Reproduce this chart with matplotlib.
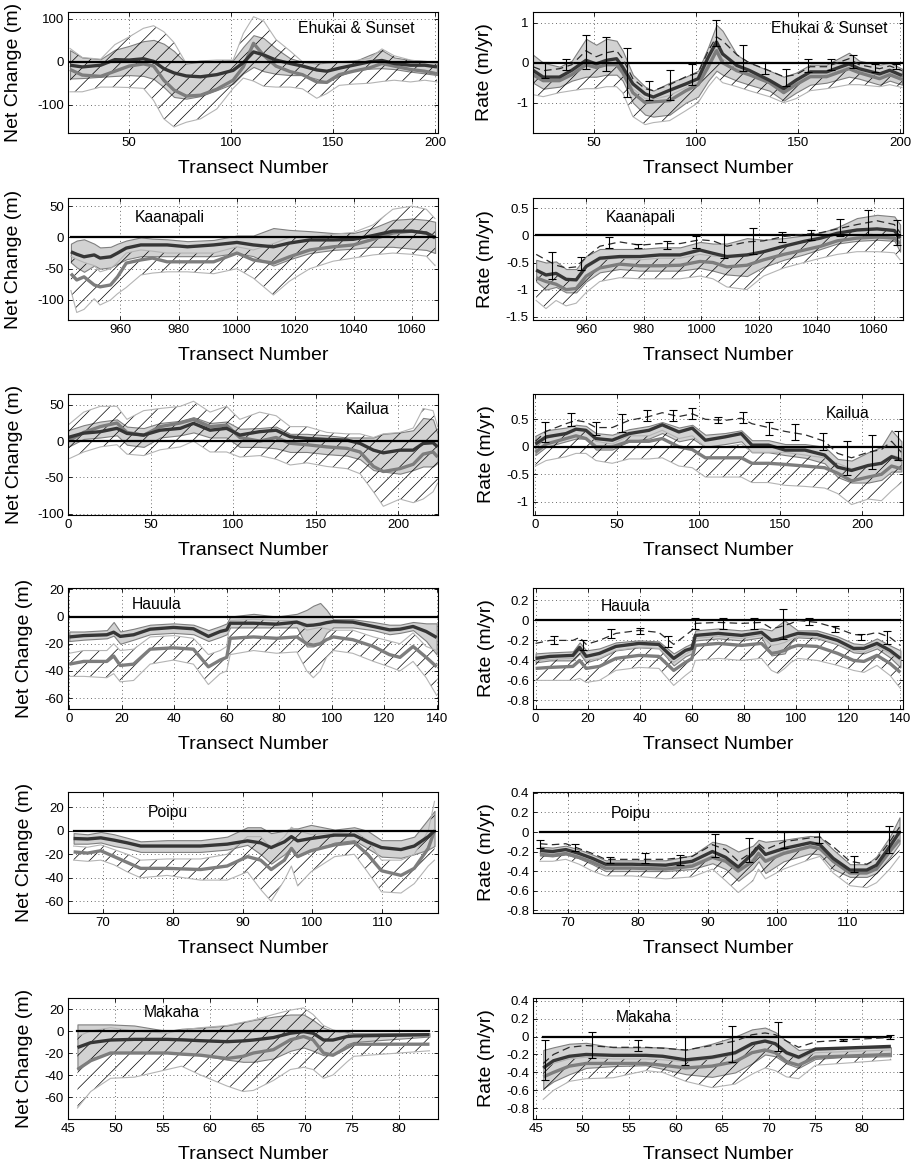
import matplotlib
matplotlib.use("Agg")
import matplotlib.pyplot as plt

plt.rcParams['font.family'] = ['Liberation Sans', 'DejaVu Sans']
plt.rcParams['hatch.linewidth'] = 0.5

# ---------------- Ehukai & Sunset ----------------
EHU_NC_X = [21, 27, 36, 43, 50, 57, 62, 67, 72, 78, 85, 93, 101, 106, 111, 116, 122, 129, 135, 142, 147, 153, 160, 168, 174, 180, 188, 195, 201]
EHU_NC_DARK = [-8, -12, -8, 5, 4, 7, 1, -16, -26, -33, -35, -30, -20, -2, 23, 16, 4, -4, -10, -19, -22, -15, -8, 0, 3, -4, -8, -8, -12]
EHU_NC_GRAY = [-18, -31, -34, -22, -10, -5, -10, -43, -66, -80, -78, -64, -43, -12, 43, 15, -10, -23, -30, -47, -48, -30, -22, -14, -4, -10, -18, -22, -28]
EHU_NC_BHI = [27, 10, 6, 28, 37, 48, 51, 42, 25, -4, 0, 2, 4, 35, 62, 55, 31, 8, 0, -4, -2, 0, 0, 16, 27, 10, 4, 2, 0]
EHU_NC_BLO = [-39, -38, -35, -33, -31, -33, -40, -59, -82, -86, -80, -66, -51, -27, -12, -22, -28, -31, -31, -40, -47, -33, -20, -16, -15, -17, -23, -27, -31]
EHU_NC_HHI = [31, 10, 6, 40, 58, 78, 84, 70, 45, -4, 2, 4, 4, 66, 105, 95, 52, 25, 0, -4, 0, 0, 2, 8, 30, 14, 4, 0, -4]
EHU_NC_HLO = [-70, -70, -59, -59, -60, -62, -90, -133, -152, -141, -133, -110, -62, -38, -45, -57, -59, -59, -63, -85, -74, -55, -52, -50, -46, -43, -47, -43, -47]

EHU_R_X = [20, 25, 33, 39, 46, 51, 56, 61, 64, 69, 75, 79, 87, 95, 101, 106, 110, 113, 120, 126, 136, 143, 149, 156, 164, 175, 180, 190, 195, 201]
EHU_R_DARK = [-0.19, -0.36, -0.36, -0.19, 0.06, -0.03, 0.06, 0.1, -0.11, -0.53, -0.78, -0.86, -0.69, -0.53, -0.4, 0.14, 0.52, 0.22, -0.07, -0.19, -0.44, -0.65, -0.44, -0.23, -0.23, -0.03, -0.15, -0.28, -0.19, -0.32]
EHU_R_GRAY = [-0.3, -0.45, -0.45, -0.3, -0.05, -0.12, -0.05, -0.05, -0.25, -0.75, -1.0, -0.98, -0.95, -0.7, -0.55, -0.1, 0.3, 0.0, -0.2, -0.3, -0.5, -0.75, -0.55, -0.35, -0.35, -0.15, -0.25, -0.4, -0.3, -0.42]
EHU_R_BHI = [0.2, 0.0, -0.1, 0.05, 0.6, 0.45, 0.6, 0.55, 0.3, -0.3, -0.6, -0.7, -0.5, -0.35, -0.2, 0.4, 0.95, 0.8, 0.2, 0.0, -0.2, -0.35, -0.25, -0.05, -0.05, 0.25, 0.05, -0.05, 0.0, -0.15]
EHU_R_BLO = [-0.5, -0.65, -0.6, -0.45, -0.35, -0.35, -0.3, -0.3, -0.45, -1.0, -1.3, -1.35, -1.3, -1.0, -0.85, -0.45, -0.2, -0.3, -0.45, -0.55, -0.7, -0.95, -0.75, -0.55, -0.5, -0.35, -0.4, -0.55, -0.45, -0.55]
EHU_R_HHI = [-0.25, -0.42, -0.42, -0.25, 0.0, -0.08, 0.0, 0.02, -0.18, -0.65, -0.9, -0.92, -0.82, -0.62, -0.48, 0.0, 0.4, 0.1, -0.14, -0.25, -0.47, -0.7, -0.5, -0.3, -0.3, -0.1, -0.2, -0.34, -0.25, -0.37]
EHU_R_HLO = [-0.8, -0.85, -0.75, -0.7, -0.65, -0.65, -0.6, -0.6, -0.75, -1.35, -1.55, -1.5, -1.45, -1.2, -1.0, -0.6, -0.35, -0.5, -0.6, -0.7, -0.85, -1.0, -0.9, -0.7, -0.65, -0.55, -0.55, -0.6, -0.55, -0.62]
EHU_R_DASH = [-0.1, -0.2, -0.15, -0.05, 0.3, 0.15, 0.25, 0.3, 0.1, -0.4, -0.65, -0.7, -0.55, -0.35, -0.25, 0.3, 0.65, 0.55, 0.2, 0.0, -0.2, -0.35, -0.3, -0.1, -0.1, 0.1, -0.05, -0.15, -0.08, -0.2]
EHU_EB_X = [26, 36, 46, 56, 66, 77, 87, 98, 110, 123, 134, 144, 155, 166, 177, 188, 198]
EHU_EB_Y = [-0.18, -0.05, 0.27, 0.22, -0.25, -0.70, -0.55, -0.30, 0.75, 0.12, -0.13, -0.37, -0.07, -0.04, 0.03, -0.13, -0.09]
EHU_EB_E = [0.20, 0.14, 0.42, 0.42, 0.61, 0.24, 0.38, 0.26, 0.32, 0.33, 0.15, 0.22, 0.16, 0.13, 0.17, 0.09, 0.06]

# ---------------- Kaanapali ----------------
KAA_NC_X = [943, 945, 947.5, 951, 953, 956.6, 959, 962, 967, 971, 976, 983, 992, 1000, 1005.6, 1012.5, 1018, 1025, 1033, 1040, 1046.7, 1053.5, 1060, 1065, 1068]
KAA_NC_DARK = [-23, -27, -31, -28, -33, -31, -25, -17, -12, -12, -12, -15, -12, -8, -12, -15, -9, -4, -4, -3, 3, 10, 10, 7, 0]
KAA_NC_GRAY = [-58, -68, -63, -76, -79, -76, -63, -41, -36, -33, -39, -39, -39, -25, -36, -41, -31, -20, -15, -12, -3, 7, 10, 7, -1]
KAA_NC_BHI = [-10, -5, -3, -10, -16, -15, -10, -5, 0, -2, -3, -6, -4, 3, 3, 15, 12, 10, 7, 7, 15, 28, 30, 28, 25]
KAA_NC_BLO = [-40, -48, -55, -45, -50, -48, -42, -35, -30, -30, -30, -30, -30, -25, -30, -45, -35, -25, -20, -18, -15, -15, -18, -20, -25]
KAA_NC_HHI = [-30, -35, -40, -45, -55, -50, -40, -25, -20, -22, -25, -25, -25, -15, -20, -10, 0, 0, 5, 8, 20, 45, 50, 45, 30]
KAA_NC_HLO = [-85, -120, -115, -98, -108, -100, -90, -80, -60, -57, -55, -55, -58, -50, -65, -92, -70, -50, -38, -33, -28, -25, -27, -30, -45]

KAA_R_X = [942.6, 946, 949.5, 953, 956.5, 960, 964.7, 971.6, 978.6, 985.6, 992.6, 999.5, 1004, 1008.8, 1015.8, 1021.6, 1028.6, 1035.6, 1041.4, 1047.2, 1054, 1061, 1067, 1069]
KAA_R_DARK = [-0.64, -0.73, -0.70, -0.81, -0.82, -0.57, -0.42, -0.39, -0.39, -0.36, -0.36, -0.27, -0.33, -0.39, -0.36, -0.30, -0.20, -0.11, -0.05, 0.04, 0.10, 0.12, 0.09, -0.05]
KAA_R_GRAY = [-0.78, -0.85, -0.9, -1.0, -0.98, -0.75, -0.6, -0.53, -0.56, -0.56, -0.55, -0.48, -0.5, -0.58, -0.55, -0.45, -0.35, -0.27, -0.2, -0.1, -0.05, -0.03, -0.05, -0.15]
KAA_R_BHI = [-0.45, -0.5, -0.48, -0.62, -0.62, -0.38, -0.25, -0.25, -0.25, -0.22, -0.22, -0.12, -0.15, -0.15, -0.05, -0.08, -0.05, 0.0, 0.05, 0.15, 0.32, 0.38, 0.35, 0.2]
KAA_R_BLO = [-0.85, -1.0, -0.95, -1.05, -1.05, -0.85, -0.68, -0.62, -0.65, -0.65, -0.65, -0.6, -0.65, -0.72, -0.75, -0.58, -0.45, -0.35, -0.25, -0.15, -0.1, -0.08, -0.1, -0.3]
KAA_R_HHI = [-0.65, -0.7, -0.7, -0.82, -0.8, -0.6, -0.45, -0.42, -0.45, -0.42, -0.42, -0.35, -0.38, -0.4, -0.35, -0.3, -0.2, -0.12, -0.05, 0.02, 0.1, 0.12, 0.1, -0.05]
KAA_R_HLO = [-1.2, -1.35, -1.2, -1.3, -1.25, -1.05, -0.85, -0.78, -0.8, -0.8, -0.8, -0.75, -0.8, -0.95, -1.0, -0.75, -0.6, -0.5, -0.42, -0.35, -0.3, -0.3, -0.32, -0.45]
KAA_R_DASH = [-0.35, -0.45, -0.55, -0.6, -0.58, -0.4, -0.2, -0.12, -0.18, -0.15, -0.15, -0.08, -0.1, -0.2, -0.12, -0.1, -0.02, 0.02, 0.05, 0.12, 0.2, 0.27, 0.2, 0.05]
KAA_EB_X = [948, 958, 968, 978, 988, 998, 1008, 1018, 1028, 1038, 1048, 1058, 1068]
KAA_EB_Y = [-0.55, -0.51, -0.13, -0.19, -0.18, -0.13, -0.2, -0.1, -0.03, 0.01, 0.14, 0.24, 0.06]
KAA_EB_E = [0.25, 0.12, 0.1, 0.04, 0.07, 0.11, 0.22, 0.24, 0.1, 0.09, 0.16, 0.22, 0.23]

# ---------------- Kailua ----------------
KAI_NC_X = [0, 9.5, 19.6, 29.6, 35.7, 45.8, 55.8, 68, 76, 86, 96, 104, 116, 126, 134.5, 144.6, 156.7, 168.8, 176.8, 184.9, 190.9, 201, 209, 215, 221, 223.8]
KAI_NC_DARK = [5, 11, 13, 17.6, 10.6, 8.3, 15, 17.6, 24.5, 15, 17.6, 8.3, 13, 15, 6, 3.7, 2.3, 1.4, -3.2, -12.5, -16.2, -12.5, -12.5, -3.2, -2.3, -8]
KAI_NC_GRAY = [0, 12, 20, 25, 12, 8, 20, 25, 30, 20, 22, 5, 0, 5, -3, -5, -8, -10, -15, -35, -42, -38, -32, -18, -15, -22]
KAI_NC_BHI = [15, 22, 27, 30, 20, 18, 25, 28, 33, 25, 27, 17, 18, 20, 10, 10, 8, 5, 5, 5, 10, 12, 15, 32, 30, 10]
KAI_NC_BLO = [-8, 3, 5, 8, -5, -8, 5, 8, 12, 5, 5, -8, -8, -10, -15, -15, -18, -20, -25, -40, -42, -45, -40, -35, -35, -30]
KAI_NC_HHI = [22, 40, 48, 48, 30, 42, 45, 48, 55, 40, 48, 30, 40, 35, 20, 20, 12, 10, 10, 5, 10, 12, 18, 45, 42, 20]
KAI_NC_HLO = [-25, -15, -8, -5, -18, -20, -12, -8, 0, -15, -15, -22, -20, -25, -33, -30, -35, -38, -45, -70, -90, -80, -85, -80, -70, -58]

KAI_R_X = [0, 6.5, 18.7, 24.8, 30.9, 37, 47, 57.3, 69.5, 77.6, 87.8, 96, 104, 116, 126, 132.5, 142.7, 152.8, 165, 177, 185, 193.5, 203.7, 211.8, 218, 224]
KAI_R_DARK = [0.05, 0.18, 0.24, 0.32, 0.3, 0.15, 0.12, 0.24, 0.3, 0.4, 0.27, 0.34, 0.12, 0.18, 0.24, 0.03, 0.03, -0.06, -0.06, -0.15, -0.37, -0.43, -0.34, -0.3, -0.18, -0.24]
KAI_R_GRAY = [-0.1, 0.05, 0.15, 0.2, 0.15, 0.0, 0.0, 0.1, 0.1, 0.15, 0.0, -0.05, -0.2, -0.2, -0.2, -0.3, -0.3, -0.32, -0.35, -0.38, -0.48, -0.62, -0.55, -0.5, -0.35, -0.4]
KAI_R_BHI = [0.2, 0.3, 0.35, 0.4, 0.38, 0.25, 0.22, 0.32, 0.38, 0.45, 0.35, 0.4, 0.22, 0.25, 0.3, 0.12, 0.12, 0.05, 0.05, 0.0, -0.22, -0.25, -0.1, 0.0, 0.3, 0.1]
KAI_R_BLO = [-0.15, 0.0, 0.1, 0.15, 0.15, -0.05, -0.05, 0.1, 0.15, 0.25, 0.1, 0.15, 0.0, 0.05, 0.1, -0.1, -0.1, -0.15, -0.2, -0.3, -0.55, -0.65, -0.65, -0.6, -0.45, -0.45]
KAI_R_HHI = [0.0, 0.15, 0.25, 0.3, 0.3, 0.1, 0.05, 0.2, 0.2, 0.3, 0.15, 0.2, 0.0, 0.0, 0.05, -0.1, -0.1, -0.1, -0.15, -0.2, -0.3, -0.4, -0.35, -0.3, -0.15, -0.2]
KAI_R_HLO = [-0.35, -0.25, -0.18, -0.12, -0.12, -0.25, -0.3, -0.22, -0.22, -0.2, -0.35, -0.38, -0.55, -0.55, -0.55, -0.65, -0.65, -0.7, -0.72, -0.75, -0.85, -1.05, -0.95, -0.98, -0.8, -0.65]
KAI_R_DASH = [0.1, 0.28, 0.42, 0.48, 0.45, 0.35, 0.35, 0.48, 0.55, 0.62, 0.55, 0.6, 0.5, 0.48, 0.52, 0.42, 0.35, 0.28, 0.22, 0.1, -0.12, -0.2, -0.1, -0.05, 0.1, -0.1]
KAI_EB_X = [6, 22, 37, 53, 68, 84, 96, 112, 127, 143, 159, 176, 191, 206, 222]
KAI_EB_Y = [0.27, 0.49, 0.33, 0.43, 0.56, 0.56, 0.61, 0.49, 0.54, 0.33, 0.27, 0.1, -0.2, -0.09, 0.02]
KAI_EB_E = [0.18, 0.12, 0.12, 0.16, 0.1, 0.1, 0.1, 0.06, 0.1, 0.12, 0.14, 0.15, 0.31, 0.31, 0.26]

# ---------------- Hauula ----------------
HAU_X = [0, 5.5, 14.3, 16.9, 19.4, 24.5, 30.8, 39.7, 47.3, 53, 57.5, 60, 61.3, 70.2, 79, 86.7, 90.5, 93, 95.6, 98, 100.6, 108, 115.9, 122, 126, 131, 136, 140]
HAU_NC_DARK = [-15, -14, -13.4, -11.5, -14.6, -13.4, -9.3, -8, -9, -14.6, -11, -9.8, -4.9, -4.9, -5.6, -4.1, -6.6, -6.3, -5.6, -4.5, -3.7, -4.1, -7.3, -9.8, -9.3, -7.3, -11, -15.4]
HAU_NC_GRAY = [-35, -33, -33, -29, -36, -35, -24, -23, -24, -37, -32, -30, -16, -15, -16, -15, -20, -21, -20, -17, -15, -17, -22, -28, -30, -22, -30, -37]
HAU_NC_BHI = [-11, -11, -10, -4, -11, -9, -6, -5, -6, -10, -7, -5, 0, 2, 0, 2, 5, 8, 10, 5, -2, -2, -4, -6, -6, -4, -5, -5]
HAU_NC_BLO = [-18, -17, -16, -14, -20, -17, -13, -12, -13, -18, -15, -13, -8, -8, -8, -8, -22, -22, -20, -12, -8, -8, -10, -13, -12, -10, -18, -28]
HAU_NC_HHI = [-27, -25, -25, -20, -25, -24, -15, -14, -16, -28, -25, -22, -3, -2, -3, -3, -10, -9, -8, -9, -10, -10, -15, -18, -20, -12, -22, -25]
HAU_NC_HLO = [-44, -44, -45, -42, -48, -47, -35, -32, -35, -50, -42, -40, -28, -25, -27, -26, -40, -45, -40, -30, -25, -27, -33, -37, -40, -33, -45, -58]

HAU_R_DARK = [-0.38, -0.36, -0.35, -0.27, -0.36, -0.33, -0.26, -0.23, -0.24, -0.38, -0.3, -0.28, -0.15, -0.13, -0.15, -0.12, -0.2, -0.19, -0.17, -0.15, -0.13, -0.14, -0.2, -0.28, -0.28, -0.23, -0.3, -0.38]
HAU_R_GRAY = [-0.48, -0.47, -0.46, -0.4, -0.48, -0.46, -0.38, -0.35, -0.36, -0.5, -0.42, -0.38, -0.25, -0.23, -0.25, -0.23, -0.33, -0.32, -0.3, -0.27, -0.25, -0.26, -0.33, -0.4, -0.41, -0.35, -0.43, -0.52]
HAU_R_BHI = [-0.33, -0.32, -0.31, -0.22, -0.3, -0.28, -0.22, -0.2, -0.21, -0.33, -0.26, -0.23, -0.1, -0.08, -0.1, -0.08, -0.1, -0.05, 0.0, -0.05, -0.1, -0.1, -0.16, -0.23, -0.24, -0.18, -0.25, -0.3]
HAU_R_BLO = [-0.42, -0.4, -0.4, -0.33, -0.42, -0.38, -0.3, -0.27, -0.28, -0.45, -0.36, -0.33, -0.2, -0.18, -0.2, -0.17, -0.35, -0.34, -0.33, -0.22, -0.17, -0.18, -0.24, -0.32, -0.33, -0.28, -0.37, -0.47]
HAU_R_HHI = [-0.4, -0.39, -0.38, -0.3, -0.4, -0.38, -0.3, -0.27, -0.28, -0.42, -0.34, -0.3, -0.18, -0.16, -0.18, -0.15, -0.25, -0.24, -0.22, -0.19, -0.16, -0.17, -0.24, -0.3, -0.32, -0.26, -0.33, -0.4]
HAU_R_HLO = [-0.6, -0.6, -0.6, -0.58, -0.62, -0.6, -0.5, -0.47, -0.48, -0.65, -0.55, -0.5, -0.4, -0.38, -0.4, -0.38, -0.5, -0.53, -0.48, -0.42, -0.38, -0.4, -0.45, -0.5, -0.52, -0.45, -0.55, -0.68]
HAU_R_DASH = [-0.23, -0.2, -0.2, -0.17, -0.24, -0.2, -0.13, -0.1, -0.12, -0.24, -0.15, -0.1, -0.03, -0.02, -0.03, -0.02, -0.08, -0.07, -0.05, -0.03, 0.0, -0.02, -0.08, -0.14, -0.15, -0.12, -0.17, -0.25]
HAU_EB_X = [7, 18, 29, 40, 51, 61, 72, 84, 95, 105, 115, 125, 135]
HAU_EB_Y = [-0.2, -0.245, -0.13, -0.11, -0.21, -0.03, -0.03, -0.03, -0.04, -0.01, -0.09, -0.17, -0.175]
HAU_EB_E = [0.04, 0.05, 0.045, 0.03, 0.055, 0.055, 0.055, 0.055, 0.15, 0.035, 0.03, 0.03, 0.065]

# ---------------- Poipu ----------------
POI_NC_X = [65.8, 67.8, 69.7, 71.6, 73.5, 75.4, 79.2, 84, 87.8, 90.7, 92.6, 94.1, 96, 97, 97.9, 99.8, 103.2, 106, 107.9, 109.9, 112.7, 114.6, 116.6, 117.5]
POI_NC_DARK = [-6.6, -7, -6, -8, -10.3, -13, -13, -13, -11.4, -8.6, -10.3, -14.3, -9.4, -5, -8.6, -6.6, -3.7, -3.7, -9.4, -14.3, -16, -13, -5, 0]
POI_NC_GRAY = [-18, -19, -17, -22, -27, -32, -32, -33, -30, -22, -25, -33, -25, -15, -22, -17, -12, -10, -20, -34, -38, -32, -15, 0]
POI_NC_BHI = [-2, -3, -1, -3, -6, -9, -8, -8, -5, 3, 3, -2, 0, 2, 2, 5, 1, 3, 0, -8, -8, -5, 10, 17]
POI_NC_BLO = [-11, -11, -10, -13, -15, -18, -18, -18, -16, -12, -20, -28, -20, -14, -22, -17, -10, -8, -15, -22, -23, -20, -16, -13]
POI_NC_HHI = [-13, -14, -12, -16, -20, -25, -24, -24, -20, -5, -5, -15, -5, 3, 0, -3, -2, 0, -8, -25, -25, -20, 0, 25]
POI_NC_HLO = [-25, -26, -25, -29, -35, -40, -38, -42, -42, -35, -50, -60, -42, -30, -47, -35, -22, -20, -35, -52, -53, -45, -30, -25]

POI_R_X = [66, 67.8, 69.7, 71.6, 73.5, 75.4, 79.2, 84, 87.8, 90.7, 92.6, 94.4, 96.5, 97.3, 98.3, 100.9, 104.7, 106.1, 108, 110.4, 112.8, 114.2, 116.1, 117.5]
POI_R_DARK = [-0.19, -0.2, -0.18, -0.22, -0.27, -0.33, -0.33, -0.34, -0.3, -0.2, -0.26, -0.36, -0.22, -0.15, -0.23, -0.17, -0.11, -0.13, -0.27, -0.39, -0.39, -0.34, -0.15, 0.0]
POI_R_GRAY = [-0.23, -0.24, -0.22, -0.26, -0.31, -0.37, -0.37, -0.38, -0.35, -0.26, -0.3, -0.4, -0.3, -0.22, -0.3, -0.22, -0.15, -0.17, -0.3, -0.42, -0.42, -0.38, -0.2, -0.08]
POI_R_BHI = [-0.15, -0.16, -0.14, -0.18, -0.23, -0.29, -0.29, -0.29, -0.24, -0.1, -0.13, -0.2, -0.14, -0.08, -0.1, -0.08, -0.04, -0.05, -0.18, -0.33, -0.33, -0.25, -0.05, 0.15]
POI_R_BLO = [-0.24, -0.25, -0.23, -0.27, -0.33, -0.4, -0.4, -0.4, -0.38, -0.32, -0.38, -0.5, -0.38, -0.3, -0.42, -0.3, -0.22, -0.23, -0.38, -0.46, -0.46, -0.42, -0.26, -0.12]
POI_R_HHI = [-0.22, -0.23, -0.21, -0.25, -0.3, -0.36, -0.36, -0.37, -0.33, -0.24, -0.28, -0.38, -0.27, -0.2, -0.28, -0.2, -0.14, -0.16, -0.3, -0.41, -0.41, -0.36, -0.18, -0.05]
POI_R_HLO = [-0.3, -0.3, -0.28, -0.33, -0.4, -0.45, -0.45, -0.48, -0.46, -0.38, -0.5, -0.62, -0.5, -0.38, -0.48, -0.38, -0.28, -0.25, -0.42, -0.55, -0.57, -0.52, -0.38, -0.25]
POI_R_DASH = [-0.12, -0.13, -0.12, -0.17, -0.22, -0.28, -0.28, -0.28, -0.25, -0.13, -0.18, -0.3, -0.2, -0.12, -0.18, -0.1, -0.06, -0.05, -0.15, -0.3, -0.33, -0.28, -0.1, 0.05]
POI_EB_X = [66, 71, 76, 81, 86, 91, 96, 101, 106, 111, 116]
POI_EB_Y = [-0.12, -0.155, -0.285, -0.27, -0.285, -0.14, -0.185, -0.08, -0.05, -0.33, -0.08]
POI_EB_E = [0.04, 0.035, 0.03, 0.05, 0.05, 0.12, 0.125, 0.08, 0.065, 0.08, 0.14]

# ---------------- Makaha ----------------
MAK_NC_X = [46, 47.4, 49.5, 52, 55.5, 57, 59, 61.8, 63.5, 64.6, 66.7, 68.5, 69.9, 70.9, 72, 73, 74.5, 75.2, 83.2]
MAK_NC_DARK = [-15, -10.6, -8.2, -7.6, -7.6, -8, -8.8, -9.7, -9, -8.2, -6, -2, -0.6, -2, -8.2, -8.2, -5, -4.5, -3.3]
MAK_NC_GRAY = [-35, -27, -20, -20, -20, -21, -22, -25, -23, -20, -17, -8, -5, -8, -20, -22, -15, -12, -12]
MAK_NC_BHI = [6, 6, 6, 5, 0, 2, 3, 5, 8, 10, 13, 15, 15, 10, 3, 0, -1, -2, -2]
MAK_NC_BLO = [-35, -25, -20, -20, -20, -21, -22, -26, -28, -28, -25, -18, -15, -18, -22, -22, -12, -10, -5]
MAK_NC_HHI = [-5, 0, 3, 0, -2, 1, 3, 5, 8, 10, 15, 19, 21, 15, 5, 1, -2, -5, -5]
MAK_NC_HLO = [-70, -55, -43, -42, -35, -32, -40, -50, -55, -54, -45, -35, -33, -35, -43, -40, -28, -23, -18]

MAK_R_X = [45.8, 46.9, 48.6, 50.4, 53.3, 56.8, 58.6, 61.1, 63.9, 66.4, 68.2, 69.6, 70.7, 71.9, 73.2, 75, 77.8, 83.1]
MAK_R_DARK = [-0.35, -0.27, -0.22, -0.2, -0.21, -0.21, -0.22, -0.26, -0.23, -0.18, -0.08, -0.05, -0.08, -0.18, -0.23, -0.14, -0.13, -0.11]
MAK_R_GRAY = [-0.45, -0.4, -0.33, -0.3, -0.3, -0.3, -0.32, -0.35, -0.33, -0.28, -0.18, -0.15, -0.18, -0.28, -0.32, -0.23, -0.22, -0.2]
MAK_R_BHI = [-0.15, -0.12, -0.08, -0.07, -0.12, -0.12, -0.12, -0.15, -0.08, 0.0, 0.08, 0.1, 0.05, -0.05, -0.15, -0.13, -0.13, -0.12]
MAK_R_BLO = [-0.58, -0.5, -0.42, -0.35, -0.33, -0.32, -0.36, -0.42, -0.45, -0.4, -0.3, -0.2, -0.22, -0.3, -0.35, -0.25, -0.23, -0.22]
MAK_R_HHI = [-0.35, -0.3, -0.25, -0.23, -0.25, -0.25, -0.26, -0.28, -0.25, -0.2, -0.1, -0.05, -0.1, -0.2, -0.25, -0.18, -0.17, -0.15]
MAK_R_HLO = [-0.7, -0.6, -0.5, -0.47, -0.46, -0.38, -0.4, -0.5, -0.57, -0.53, -0.42, -0.35, -0.38, -0.45, -0.47, -0.32, -0.3, -0.26]
MAK_R_DASH = [-0.3, -0.2, -0.12, -0.1, -0.12, -0.12, -0.13, -0.15, -0.1, -0.05, 0.02, 0.04, 0.02, -0.05, -0.12, -0.06, -0.04, -0.01]
MAK_EB_X = [46, 51, 56, 61, 66, 71, 78, 83]
MAK_EB_Y = [-0.26, -0.095, -0.1, -0.165, -0.08, 0.0, -0.04, -0.005]
MAK_EB_E = [0.22, 0.145, 0.06, 0.155, 0.2, 0.16, 0.01, 0.025]

SITE_NAMES = ["Ehukai & Sunset", "Kaanapali", "Kailua", "Hauula", "Poipu", "Makaha"]
XLABEL = "Transect Number"
YLABEL_LEFT = "Net Change (m)"
YLABEL_RIGHT = "Rate (m/yr)"

LEFT_YTICKS = [[-100, 0, 100], [-100, -50, 0, 50], [-100, -50, 0, 50],
               [-60, -40, -20, 0, 20], [-60, -40, -20, 0, 20], [-60, -40, -20, 0, 20]]
RIGHT_YTICKS = [[-1, 0, 1], [-1.5, -1, -0.5, 0, 0.5], [-1, -0.5, 0, 0.5],
                [-0.8, -0.6, -0.4, -0.2, 0, 0.2], [-0.8, -0.6, -0.4, -0.2, 0, 0.2, 0.4],
                [-0.8, -0.6, -0.4, -0.2, 0, 0.2, 0.4]]
XTICKS = [[50, 100, 150, 200], [960, 980, 1000, 1020, 1040, 1060], [0, 50, 100, 150, 200],
          [0, 20, 40, 60, 80, 100, 120, 140], [70, 80, 90, 100, 110],
          [45, 50, 55, 60, 65, 70, 75, 80]]

# ---------------- layout (pixel boxes) ----------------
W, H = 921, 1166
ROW_TB = [(12, 133), (198, 320), (394, 515), (588, 709), (792, 913), (998, 1119)]
COL_L = [(68, 438), (533, 903)]
LEFT_XLIM = [(20, 201.5), (942, 1069), (0, 224), (-0.5, 140.5), (65, 118), (45, 84.1)]
RIGHT_XLIM = [(20, 201.5), (941.5, 1070), (-1.5, 225), (-1, 141), (65, 118), (44.7, 84.4)]
LEFT_YLIM = [(-166, 116), (-132, 63), (-102, 65), (-68, 21), (-70, 33), (-80, 30)]
RIGHT_YLIM = [(-1.76, 1.27), (-1.56, 0.69), (-1.24, 0.96), (-0.886, 0.324), (-0.83, 0.41), (-0.92, 0.43)]
LEFT_TITLE_POS = [(0.78, 0.86), (0.275, 0.84), (0.81, 0.87), (0.24, 0.86), (0.27, 0.83), (0.28, 0.88)]
RIGHT_TITLE_POS = [(0.80, 0.86), (0.29, 0.84), (0.85, 0.84), (0.25, 0.85), (0.264, 0.82), (0.30, 0.84)]
LEFT_YLAB_X = [-0.124, -0.124, -0.122, -0.095, -0.095, -0.095]
RIGHT_YLAB_X = [-0.108, -0.106, -0.104, -0.103, -0.103, -0.103]

LEFT_PANELS = [
    (EHU_NC_X, EHU_NC_DARK, EHU_NC_GRAY, EHU_NC_BHI, EHU_NC_BLO, EHU_NC_HHI, EHU_NC_HLO),
    (KAA_NC_X, KAA_NC_DARK, KAA_NC_GRAY, KAA_NC_BHI, KAA_NC_BLO, KAA_NC_HHI, KAA_NC_HLO),
    (KAI_NC_X, KAI_NC_DARK, KAI_NC_GRAY, KAI_NC_BHI, KAI_NC_BLO, KAI_NC_HHI, KAI_NC_HLO),
    (HAU_X, HAU_NC_DARK, HAU_NC_GRAY, HAU_NC_BHI, HAU_NC_BLO, HAU_NC_HHI, HAU_NC_HLO),
    (POI_NC_X, POI_NC_DARK, POI_NC_GRAY, POI_NC_BHI, POI_NC_BLO, POI_NC_HHI, POI_NC_HLO),
    (MAK_NC_X, MAK_NC_DARK, MAK_NC_GRAY, MAK_NC_BHI, MAK_NC_BLO, MAK_NC_HHI, MAK_NC_HLO),
]
RIGHT_PANELS = [
    (EHU_R_X, EHU_R_DARK, EHU_R_GRAY, EHU_R_BHI, EHU_R_BLO, EHU_R_HHI, EHU_R_HLO, EHU_R_DASH, EHU_EB_X, EHU_EB_Y, EHU_EB_E),
    (KAA_R_X, KAA_R_DARK, KAA_R_GRAY, KAA_R_BHI, KAA_R_BLO, KAA_R_HHI, KAA_R_HLO, KAA_R_DASH, KAA_EB_X, KAA_EB_Y, KAA_EB_E),
    (KAI_R_X, KAI_R_DARK, KAI_R_GRAY, KAI_R_BHI, KAI_R_BLO, KAI_R_HHI, KAI_R_HLO, KAI_R_DASH, KAI_EB_X, KAI_EB_Y, KAI_EB_E),
    (HAU_X, HAU_R_DARK, HAU_R_GRAY, HAU_R_BHI, HAU_R_BLO, HAU_R_HHI, HAU_R_HLO, HAU_R_DASH, HAU_EB_X, HAU_EB_Y, HAU_EB_E),
    (POI_R_X, POI_R_DARK, POI_R_GRAY, POI_R_BHI, POI_R_BLO, POI_R_HHI, POI_R_HLO, POI_R_DASH, POI_EB_X, POI_EB_Y, POI_EB_E),
    (MAK_R_X, MAK_R_DARK, MAK_R_GRAY, MAK_R_BHI, MAK_R_BLO, MAK_R_HHI, MAK_R_HLO, MAK_R_DASH, MAK_EB_X, MAK_EB_Y, MAK_EB_E),
]

DARK_C = '#363636'
GRAY_C = '#7d7d7d'
BAND_FILL = '#d2d2d2'
BAND_EDGE = '#808080'
HATCH_EDGE = '#b4b4b4'


def add_axes(col, row):
    l, r = COL_L[col]
    t, b = ROW_TB[row]
    return fig.add_axes([l / W, 1 - b / H, (r - l) / W, (b - t) / H])


def draw_common(ax, x, dark, gray, bhi, blo, hhi, hlo):
    ax.fill_between(x, blo, bhi, facecolor=BAND_FILL, edgecolor=BAND_EDGE, linewidth=0.8, zorder=2)
    ax.fill_between(x, hlo, hhi, facecolor='none', edgecolor='black', hatch='//', linewidth=0, zorder=3)
    ax.plot(x, hhi, color=HATCH_EDGE, lw=0.8, zorder=3)
    ax.plot(x, hlo, color=HATCH_EDGE, lw=0.8, zorder=3)
    ax.plot(x, gray, color=GRAY_C, lw=2.4, zorder=4, solid_capstyle='butt')
    ax.plot(x, dark, color=DARK_C, lw=2.4, zorder=5, solid_capstyle='butt')
    ax.plot([x[0], x[-1]], [0, 0], color='black', lw=1.6, zorder=6)


def style(ax, xlim, ylim, xticks, yticks, ylabel, ylab_x, title, tpos):
    ax.set_xlim(*xlim)
    ax.set_ylim(*ylim)
    ax.set_xticks(xticks)
    ax.set_yticks(yticks)
    ax.set_yticklabels([('%g' % v) for v in yticks])
    ax.grid(True, linestyle=(0, (1, 3.5)), color='#3a3a3a', lw=0.6, zorder=1)
    ax.set_axisbelow(True)
    ax.tick_params(direction='in', length=3, width=0.6, top=True, right=True,
                   labelsize=9.5, pad=3)
    for s in ax.spines.values():
        s.set_linewidth(0.8)
        s.set_zorder(10)
    ax.set_xlabel(XLABEL, fontsize=14)
    ax.xaxis.set_label_coords(0.5, -0.225)
    ax.set_ylabel(ylabel, fontsize=14)
    ax.yaxis.set_label_coords(ylab_x, 0.5)
    ax.text(tpos[0], tpos[1], title, transform=ax.transAxes, ha='center', va='center',
            fontsize=11.3, zorder=12)


fig = plt.figure(figsize=(W / 100, H / 100), dpi=100)

for i in range(6):
    axl = add_axes(0, i)
    draw_common(axl, *LEFT_PANELS[i])
    style(axl, LEFT_XLIM[i], LEFT_YLIM[i], XTICKS[i], LEFT_YTICKS[i], YLABEL_LEFT,
          LEFT_YLAB_X[i], SITE_NAMES[i], LEFT_TITLE_POS[i])

    axr = add_axes(1, i)
    x, dark, gray, bhi, blo, hhi, hlo, dash, ebx, eby, ebe = RIGHT_PANELS[i]
    draw_common(axr, x, dark, gray, bhi, blo, hhi, hlo)
    axr.plot(x, dash, color='#2a2a2a', lw=0.9, dashes=(6, 3.5), zorder=7)
    axr.errorbar(ebx, eby, yerr=ebe, fmt='none', ecolor='black', elinewidth=0.8,
                 capsize=3, capthick=0.8, zorder=8)
    style(axr, RIGHT_XLIM[i], RIGHT_YLIM[i], XTICKS[i], RIGHT_YTICKS[i], YLABEL_RIGHT,
          RIGHT_YLAB_X[i], SITE_NAMES[i], RIGHT_TITLE_POS[i])

fig.savefig('out.png', dpi=100)
